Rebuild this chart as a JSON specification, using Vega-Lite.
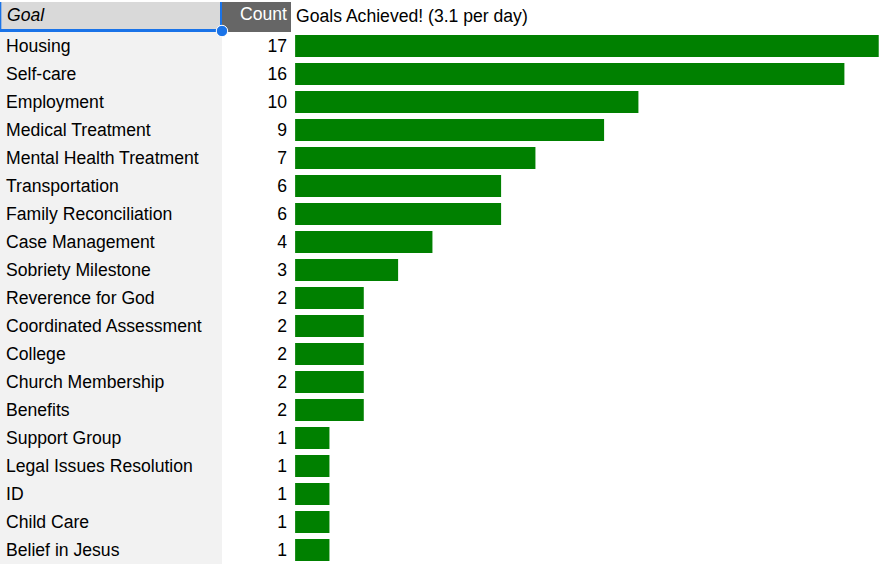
{
  "$schema": "https://vega.github.io/schema/vega-lite/v6.json",
  "padding": {"top": 2, "left": 0, "right": 0, "bottom": 0},
  "background": "white",
  "spacing": 0,
  "bounds": "flush",
  "columns": 3,
  "config": {
    "view": {"stroke": null},
    "concat": {"spacing": 0},
    "text": {"font": "Liberation Sans", "fontSize": 17.6, "color": "#000000"}
  },
  "datasets": {
    "header": [{"goal": "Goal", "count": "Count", "title": "Goals Achieved! (3.1 per day)"}],
    "goals": [
      {"goal": "Housing", "count": 17},
      {"goal": "Self-care", "count": 16},
      {"goal": "Employment", "count": 10},
      {"goal": "Medical Treatment", "count": 9},
      {"goal": "Mental Health Treatment", "count": 7},
      {"goal": "Transportation", "count": 6},
      {"goal": "Family Reconciliation", "count": 6},
      {"goal": "Case Management", "count": 4},
      {"goal": "Sobriety Milestone", "count": 3},
      {"goal": "Reverence for God", "count": 2},
      {"goal": "Coordinated Assessment", "count": 2},
      {"goal": "College", "count": 2},
      {"goal": "Church Membership", "count": 2},
      {"goal": "Benefits", "count": 2},
      {"goal": "Support Group", "count": 1},
      {"goal": "Legal Issues Resolution", "count": 1},
      {"goal": "ID", "count": 1},
      {"goal": "Child Care", "count": 1},
      {"goal": "Belief in Jesus", "count": 1}
    ]
  },
  "resolve": {"scale": {"x": "independent", "y": "independent"}},
  "concat": [
    {
      "width": 222, "height": 30,
      "view": {"fill": "#d9d9d9", "stroke": null},
      "data": {"name": "header"},
      "layer": [
        {
          "mark": {"type": "text", "align": "left", "baseline": "middle", "fontStyle": "italic", "dx": 7, "dy": -1},
          "encoding": {
            "x": {"datum": 0, "type": "quantitative", "scale": {"domain": [0, 1], "nice": false}, "axis": null},
            "y": {"datum": 0.5, "type": "quantitative", "scale": {"domain": [0, 1], "nice": false}, "axis": null},
            "text": {"field": "goal"}
          }
        },
        {
          "mark": {"type": "rect", "color": "#1a73e8"},
          "encoding": {
            "x": {"datum": 0, "type": "quantitative"},
            "x2": {"datum": 1},
            "y": {"datum": 0.0, "type": "quantitative"},
            "y2": {"datum": 0.1}
          }
        },
        {
          "mark": {"type": "rect", "color": "#1a73e8"},
          "encoding": {
            "x": {"datum": 0, "type": "quantitative"},
            "x2": {"datum": 0.006},
            "y": {"datum": 0.0, "type": "quantitative"},
            "y2": {"datum": 1}
          }
        },
        {
          "mark": {"type": "rect", "color": "#1a73e8"},
          "encoding": {
            "x": {"datum": 0.991, "type": "quantitative"},
            "x2": {"datum": 1},
            "y": {"datum": 0.0, "type": "quantitative"},
            "y2": {"datum": 1}
          }
        }
      ]
    },
    {
      "width": 69, "height": 30,
      "view": {"fill": "#666666", "stroke": null},
      "data": {"name": "header"},
      "mark": {"type": "text", "align": "right", "baseline": "middle", "color": "white", "dx": -4, "dy": -2},
      "encoding": {
        "x": {"datum": 1, "type": "quantitative", "scale": {"domain": [0, 1], "nice": false}, "axis": null},
        "y": {"datum": 0.5, "type": "quantitative", "scale": {"domain": [0, 1], "nice": false}, "axis": null},
        "text": {"field": "count"}
      }
    },
    {
      "width": 597, "height": 30,
      "view": {"fill": "white", "stroke": null},
      "data": {"name": "header"},
      "mark": {"type": "text", "align": "left", "baseline": "middle", "dx": 5},
      "encoding": {
        "x": {"datum": 0, "type": "quantitative", "scale": {"domain": [0, 1], "nice": false}, "axis": null},
        "y": {"datum": 0.5, "type": "quantitative", "scale": {"domain": [0, 1], "nice": false}, "axis": null},
        "text": {"field": "title"}
      }
    },
    {
      "width": 222, "height": 532,
      "view": {"fill": "#f2f2f2", "stroke": null},
      "data": {"name": "goals"},
      "mark": {"type": "text", "align": "left", "baseline": "middle", "dx": 6, "dy": 1},
      "encoding": {
        "x": {"datum": 0, "type": "quantitative", "scale": {"domain": [0, 1], "nice": false}, "axis": null},
        "y": {"field": "goal", "type": "nominal", "sort": null, "axis": null, "scale": {"paddingInner": 0, "paddingOuter": 0}},
        "text": {"field": "goal"}
      }
    },
    {
      "width": 69, "height": 532,
      "view": {"fill": "white", "stroke": null},
      "data": {"name": "goals"},
      "layer": [
        {
          "mark": {"type": "text", "align": "right", "baseline": "middle", "dx": -4, "dy": 1},
          "encoding": {
            "x": {"datum": 1, "type": "quantitative", "scale": {"domain": [0, 1], "nice": false}, "axis": null},
            "y": {"field": "goal", "type": "nominal", "sort": null, "axis": null, "scale": {"paddingInner": 0, "paddingOuter": 0}},
            "text": {"field": "count"}
          }
        },
        {
          "transform": [{"filter": "datum.goal === 'Housing'"}],
          "mark": {"type": "circle", "color": "#1a73e8", "fill": "#1a73e8", "opacity": 1, "fillOpacity": 1, "size": 130, "stroke": "white", "strokeWidth": 1, "yOffset": -15},
          "encoding": {
            "x": {"datum": 0, "type": "quantitative"},
            "y": {"field": "goal", "type": "nominal", "sort": null}
          }
        }
      ]
    },
    {
      "width": 597, "height": 532,
      "view": {"fill": "white", "stroke": null},
      "data": {"name": "goals"},
      "mark": {"type": "bar", "color": "#008000", "size": 22},
      "encoding": {
        "x": {"field": "count", "type": "quantitative", "scale": {"domain": [-0.12, 17.27], "nice": false, "zero": false}, "axis": null},
        "y": {"field": "goal", "type": "nominal", "sort": null, "axis": null, "scale": {"paddingInner": 0, "paddingOuter": 0}}
      }
    }
  ]
}
